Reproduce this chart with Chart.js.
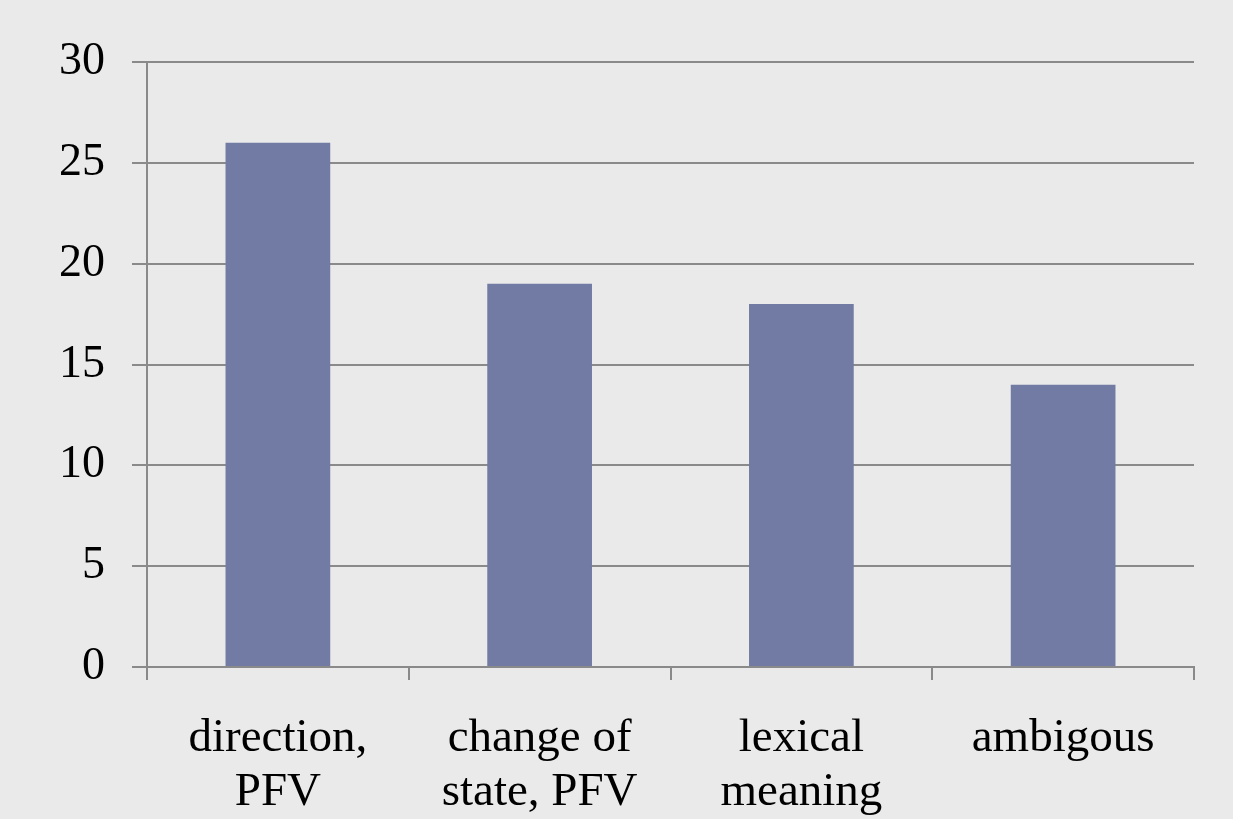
<!DOCTYPE html>
<html>
<head>
<meta charset="utf-8">
<script src="https://cdn.jsdelivr.net/npm/chart.js@4/dist/chart.umd.min.js"></script>
<style>
  html, body { margin: 0; padding: 0; background: #EAEAEA; }
  #wrap { width: 1233px; height: 819px; position: relative; }
</style>
</head>
<body>
<div id="wrap"><canvas id="c" width="1233" height="819"></canvas></div>
<script>
const categories = [["direction,", "PFV"], ["change of", "state, PFV"], ["lexical", "meaning"], ["ambigous"]];
const counts = [26, 19, 18, 14];
const yMin = 0;
const yMax = 30;
const yStep = 5;

const yFont = { family: "'Liberation Serif', 'Times New Roman', serif", size: 46, lineHeight: 1.2 };
const xFont = { family: "'Liberation Serif', 'Times New Roman', serif", size: 47, lineHeight: 1.15 };

new Chart(document.getElementById('c'), {
  type: 'bar',
  data: {
    labels: categories,
    datasets: [{
      data: counts,
      backgroundColor: '#717BA3',
      borderWidth: 0,
      categoryPercentage: 0.4,
      barPercentage: 1.0
    }]
  },
  options: {
    responsive: false,
    animation: false,
    layout: { padding: { top: 62, right: 39, bottom: 0, left: 0 } },
    plugins: { legend: { display: false }, tooltip: { enabled: false } },
    scales: {
      x: {
        afterFit: s => { s.height = 152; },
        grid: {
          offset: true,
          drawOnChartArea: false,
          drawTicks: true,
          tickLength: 13,
          color: '#8A8A8A',
          lineWidth: 2
        },
        border: { display: true, color: '#8A8A8A', width: 2 },
        ticks: { color: '#000', font: xFont, padding: 32, maxRotation: 0 }
      },
      y: {
        min: yMin,
        max: yMax,
        afterFit: s => { s.width = 147; },
        grid: {
          color: '#8A8A8A',
          lineWidth: 2,
          drawTicks: true,
          tickLength: 15
        },
        border: { display: true, color: '#8A8A8A', width: 2 },
        ticks: { stepSize: yStep, color: '#000', font: yFont, padding: 27 }
      }
    }
  }
});
</script>
</body>
</html>
